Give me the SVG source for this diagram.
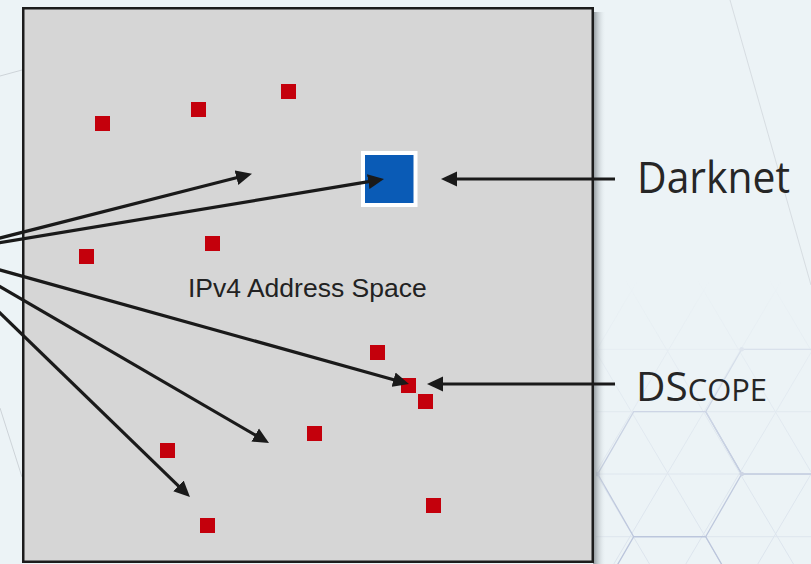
<svg xmlns="http://www.w3.org/2000/svg" width="811" height="564" viewBox="0 0 811 564">
<style>
.host{fill:#c4000c}
.conn{stroke:#1a1a1a;stroke-width:3.2;fill:none;marker-end:url(#ah)}
.grid{stroke:#dce4ed;stroke-width:1;fill:none}
.hex{stroke:#b9c3da;stroke-width:1.3;fill:none}
.deco{stroke:#cdd3d8;stroke-width:1;fill:none}
.lbl{font-family:"Open Sans","Noto Sans",sans-serif;fill:#262626}
</style>
<defs>
<marker id="ah" markerUnits="userSpaceOnUse" markerWidth="18" markerHeight="16" viewBox="0 -8 18 16" refX="2" refY="0" orient="auto">
<path d="M0,-7.5 L16,0 L0,7.5 z" fill="#1a1a1a"/>
</marker>
<linearGradient id="shadow" x1="0" y1="0" x2="1" y2="0">
<stop offset="0" stop-color="#6f777c" stop-opacity="0.8"/>
<stop offset="1" stop-color="#ecf3f6" stop-opacity="0"/>
</linearGradient>
<linearGradient id="fadeV" x1="0" y1="0" x2="0" y2="1">
<stop offset="0" stop-color="#fff" stop-opacity="0"/>
<stop offset="0.3" stop-color="#fff" stop-opacity="0.45"/>
<stop offset="0.7" stop-color="#fff" stop-opacity="0.85"/>
<stop offset="1" stop-color="#fff" stop-opacity="1"/>
</linearGradient>
<mask id="m" maskUnits="userSpaceOnUse" x="594" y="280" width="217" height="284">
<rect x="594" y="280" width="217" height="284" fill="url(#fadeV)"/>
</mask>
<clipPath id="cr"><rect x="596" y="280" width="215" height="284"/></clipPath>
</defs>

<rect width="811" height="564" fill="#ecf3f6"/>

<g id="background-pattern">
<line class="deco" x1="730" y1="0" x2="811" y2="285" stroke-opacity="0.7"/>
<line class="deco" x1="0" y1="76" x2="22" y2="70"/>
<line class="deco" x1="0" y1="408" x2="22" y2="477"/>
<g clip-path="url(#cr)" mask="url(#m)">
<g class="grid">
<line x1="594" y1="349.3" x2="811" y2="349.3"/>
<line x1="594" y1="411.7" x2="811" y2="411.7"/>
<line x1="594" y1="474" x2="811" y2="474"/>
<line x1="594" y1="536.7" x2="811" y2="536.7"/>
<line x1="481.4" y1="280" x2="649.5" y2="564"/>
<line x1="553.4" y1="280" x2="721.5" y2="564"/>
<line x1="625.4" y1="280" x2="793.5" y2="564"/>
<line x1="697.4" y1="280" x2="865.5" y2="564"/>
<line x1="769.4" y1="280" x2="937.5" y2="564"/>
<line x1="637.9" y1="280" x2="469.8" y2="564"/>
<line x1="709.9" y1="280" x2="541.8" y2="564"/>
<line x1="781.9" y1="280" x2="613.8" y2="564"/>
<line x1="853.9" y1="280" x2="685.8" y2="564"/>
<line x1="925.9" y1="280" x2="757.8" y2="564"/>
</g>
<g class="hex">
<polygon points="633.7,411.7 705.7,411.7 741.7,474 705.7,536.7 633.7,536.7 597.7,474"/>
<polygon points="741.7,349.3 813.7,349.3 849.7,411.7 813.7,474 741.7,474 705.7,411.7"/>
<polygon points="633.7,536.7 705.7,536.7 741.7,599 705.7,661 633.7,661 597.7,599"/>
</g>
<g fill="#c6cee0">
<circle cx="741.7" cy="349.3" r="2.3"/>
<circle cx="741.7" cy="474" r="2.3"/>
<circle cx="597.7" cy="474" r="2.3"/>
</g>
</g>
</g>

<g id="ipv4-space">
<rect x="593" y="12" width="13" height="552" fill="url(#shadow)"/>
<rect x="23.25" y="8.25" width="569.5" height="553.5" fill="#d6d6d6" stroke="#1c1c1c" stroke-width="2.5"/>
<text x="188" y="297.3" font-family="'Liberation Sans',Arial,sans-serif" font-size="26.5" fill="#222">IPv4 Address Space</text>
</g>

<g id="hosts">
<rect id="host-1" class="host" x="95" y="116" width="15" height="15"/>
<rect id="host-2" class="host" x="191" y="102" width="15" height="15"/>
<rect id="host-3" class="host" x="281" y="84" width="15" height="15"/>
<rect id="host-4" class="host" x="79" y="249" width="15" height="15"/>
<rect id="host-5" class="host" x="205" y="236" width="15" height="15"/>
<rect id="host-6" class="host" x="370" y="345" width="15" height="15"/>
<rect id="host-7" class="host" x="401" y="378" width="15" height="15"/>
<rect id="host-8" class="host" x="418" y="394" width="15" height="15"/>
<rect id="host-9" class="host" x="307" y="426" width="15" height="15"/>
<rect id="host-10" class="host" x="160" y="443" width="15" height="15"/>
<rect id="host-11" class="host" x="200" y="518" width="15" height="15"/>
<rect id="host-12" class="host" x="426" y="498" width="15" height="15"/>
</g>

<g id="darknet-block">
<rect x="363" y="153" width="52.5" height="52" fill="#0a5bb6" stroke="#ffffff" stroke-width="4"/>
</g>

<g id="connectors">
<line class="conn" x1="-60" y1="253.3" x2="238.4" y2="177.2"/>
<line class="conn" x1="-60" y1="252.7" x2="370.2" y2="181.3"/>
<line class="conn" x1="-60" y1="253.3" x2="395.5" y2="380.2"/>
<line class="conn" x1="-60" y1="251.8" x2="256.9" y2="436"/>
<line class="conn" x1="-60" y1="254.9" x2="179.9" y2="487.3"/>
<line class="conn" x1="615" y1="179" x2="455" y2="179"/>
<line class="conn" x1="615" y1="384" x2="441" y2="384"/>
</g>

<g id="label-darknet">
<text class="lbl" x="637" y="193" font-size="44" textLength="153" lengthAdjust="spacingAndGlyphs">Darknet</text>
</g>
<g id="label-dscope">
<text class="lbl" x="636" y="401" font-size="40" textLength="131" lengthAdjust="spacingAndGlyphs">DS<tspan font-size="30.5">COPE</tspan></text>
</g>
</svg>
